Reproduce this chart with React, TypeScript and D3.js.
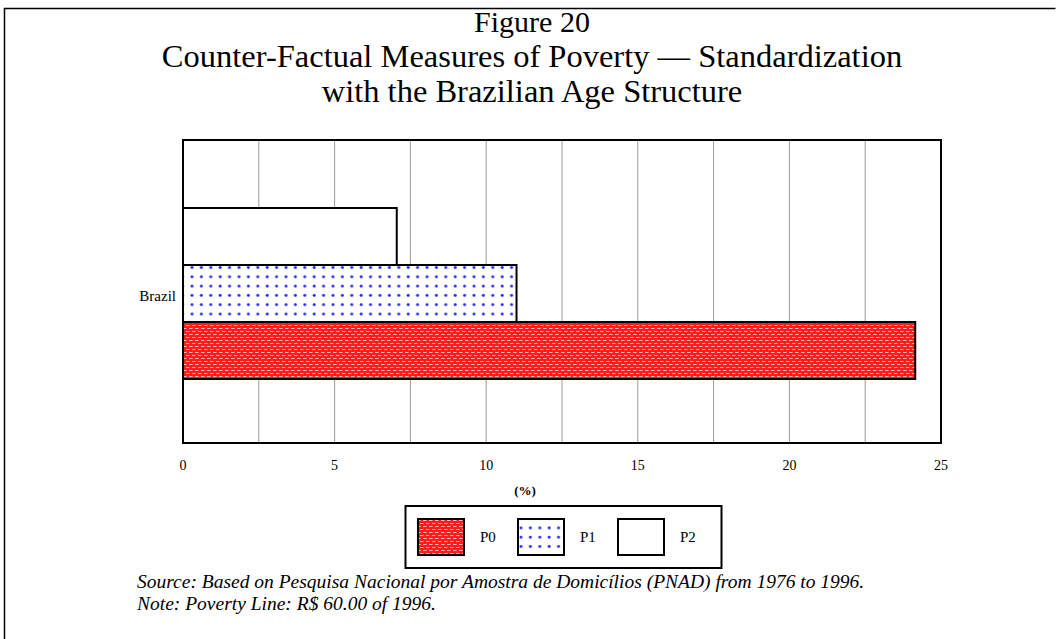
import React from "react";
import * as d3 from "d3";

const categories = ["Brazil"];
const seriesNames = ["P0", "P1", "P2"];
const p0Values = [24.15];
const p1Values = [11.0];
const p2Values = [7.05];
const xTicks = [0, 5, 10, 15, 20, 25];
const gridValues = [2.5, 5, 7.5, 10, 12.5, 15, 17.5, 20, 22.5];
const titleLines = [
  "Figure 20",
  "Counter-Factual Measures of Poverty \u2014 Standardization",
  "with the Brazilian Age Structure",
];
const noteLines = [
  "Source: Based on Pesquisa Nacional por Amostra de Domic\u00edlios (PNAD) from 1976 to 1996.",
  "Note: Poverty Line: R$ 60.00 of 1996.",
];

const W = 1064;
const H = 639;
const plot = { left: 183, right: 941, top: 140, bottom: 443 };
const serif = "'Liberation Serif', 'Times New Roman', serif";
const titleSizes = [30, 32.5, 32.5];

export default function App() {
  const x = d3.scaleLinear().domain([0, 25]).range([plot.left, plot.right]);
  const y = d3.scaleBand().domain(categories).range([plot.top, plot.bottom]);
  const order = ["P2", "P1", "P0"]; // top to bottom
  const inner = d3.scaleBand().domain(order).range([68, 239]).padding(0);
  const valuesBy: Record<string, number[]> = { P0: p0Values, P1: p1Values, P2: p2Values };
  const fillBy: Record<string, string> = { P0: "url(#patP0)", P1: "url(#patP1)", P2: "#ffffff" };
  const legendX = d3.scalePoint().domain(seriesNames).range([418, 618]);

  return (
    <svg width={W} height={H} style={{ position: "absolute", left: 0, top: 0 }} fontFamily={serif}>
      <defs>
        <pattern id="patP0" width="6" height="6" patternUnits="userSpaceOnUse">
          <rect width="6" height="6" fill="#ff1c1c" />
          <rect x="0" y="1" width="3" height="1" fill="#ffb4b4" />
          <rect x="3" y="4" width="3" height="1" fill="#ffb4b4" />
          <rect x="3" y="1" width="1" height="1" fill="#ff7070" />
          <rect x="0" y="4" width="1" height="1" fill="#ff7070" />
        </pattern>
        <pattern id="patP1" width="9.4" height="9.3" patternUnits="userSpaceOnUse" y="3">
          <rect width="9.4" height="9.3" fill="#ffffff" />
          <circle cx="4" cy="4" r="1.5" fill="#2a2aff" />
        </pattern>
      </defs>
      <rect width={W} height={H} fill="#fff" />
      <path d={`M4.5,${H} V8.5 H1055.5`} fill="none" stroke="#000" strokeWidth={1.5} />
      {titleLines.map((t, i) => (
        <text key={i} x={532} y={32 + i * 35} textAnchor="middle" fontSize={titleSizes[i]}>
          {t}
        </text>
      ))}
      {gridValues.map((g) => (
        <line key={g} x1={x(g)} x2={x(g)} y1={plot.top} y2={plot.bottom} stroke="#9a9a9a" strokeWidth={1} />
      ))}
      {categories.map((c, ci) =>
        order.map((s) => (
          <rect
            key={c + s}
            x={x(0)}
            y={(y(c) ?? 0) + (inner(s) ?? 0)}
            width={x(valuesBy[s][ci]) - x(0)}
            height={inner.bandwidth()}
            fill={fillBy[s]}
            stroke="#000"
            strokeWidth={2}
          />
        ))
      )}
      <rect
        x={plot.left}
        y={plot.top}
        width={plot.right - plot.left}
        height={plot.bottom - plot.top}
        fill="none"
        stroke="#000"
        strokeWidth={2}
      />
      {categories.map((c) => (
        <text key={c} x={plot.left - 7} y={(y(c) ?? 0) + 161} textAnchor="end" fontSize={15}>
          {c}
        </text>
      ))}
      {xTicks.map((t) => (
        <text key={t} x={x(t)} y={470} textAnchor="middle" fontSize={14}>
          {t}
        </text>
      ))}
      <text x={525} y={495} textAnchor="middle" fontSize={13} fontWeight="bold">
        (%)
      </text>
      <rect x={405.5} y={506} width={316} height={62} fill="#fff" stroke="#000" strokeWidth={2} />
      {seriesNames.map((s) => (
        <g key={s}>
          <rect
            x={legendX(s)}
            y={519}
            width={46}
            height={36}
            fill={fillBy[s]}
            stroke="#000"
            strokeWidth={2}
          />
          <text x={(legendX(s) ?? 0) + 62} y={542} fontSize={15}>
            {s}
          </text>
        </g>
      ))}
      {noteLines.map((t, i) => (
        <text key={i} x={137} y={588 + i * 22} fontSize={19.5} fontStyle="italic">
          {t}
        </text>
      ))}
    </svg>
  );
}
